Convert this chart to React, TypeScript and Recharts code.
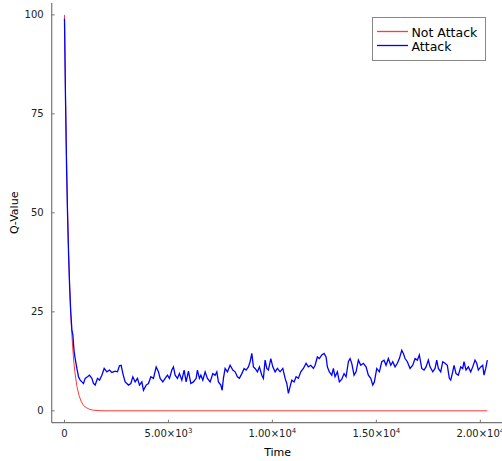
import React from "react";
import { LineChart, Line, XAxis, YAxis, Legend } from "recharts";

const seriesNames = ["Not Attack", "Attack"];

// Not Attack: smooth decay
const notAttackTime = [0, 50, 100, 150, 200, 250, 300, 350, 400, 450, 500, 600, 700, 800, 900, 1000, 1200, 1400, 1700, 2000, 20337];
const notAttackQ = [100, 79.2, 62.8, 49.8, 39.4, 31.3, 24.8, 19.6, 15.6, 12.3, 9.8, 6.1, 3.9, 2.4, 1.5, 0.96, 0.38, 0.15, 0.04, 0.01, 0];

// Attack: noisy trace
const attackTime = [
  0, 50, 100, 150, 200, 250, 300, 355, 404, 440, 466, 514, 560, 596, 640, 673, 755, 836, 913, 995,
  1106, 1202, 1317, 1394, 1476, 1587, 1683, 1798, 1909, 2038, 2163, 2279, 2438, 2548, 2644, 2726, 2808, 2918, 3077, 3192,
  3288, 3399, 3510, 3606, 3721, 3798, 3928, 4038, 4154, 4279, 4409, 4519, 4601, 4731, 4841, 4952, 5048, 5163, 5240, 5322,
  5433, 5529, 5644, 5755, 5851, 5962, 6077, 6202, 6332, 6394, 6490, 6560, 6654, 6764, 6875, 7005, 7135, 7245, 7327, 7404,
  7519, 7582, 7644, 7726, 7837, 7966, 8096, 8207, 8317, 8413, 8529, 8639, 8736, 8846, 8928, 9010, 9087, 9168, 9279, 9375,
  9490, 9567, 9649, 9731, 9808, 9923, 10019, 10130, 10240, 10370, 10500, 10611, 10692, 10769, 10851, 10933, 11043, 11139, 11250, 11365,
  11490, 11620, 11730, 11846, 11971, 12053, 12163, 12260, 12375, 12486, 12582, 12644, 12740, 12856, 12933, 13014, 13125, 13221, 13337, 13447,
  13543, 13654, 13736, 13817, 13928, 14024, 14135, 14250, 14375, 14505, 14615, 14731, 14827, 14904, 15019, 15144, 15260, 15370, 15466, 15577,
  15692, 15788, 15899, 16010, 16106, 16221, 16298, 16380, 16490, 16620, 16750, 16861, 16971, 17067, 17183, 17293, 17389, 17500, 17582, 17712,
  17822, 17904, 17981, 18096, 18192, 18303, 18413, 18510, 18577, 18673, 18736, 18832, 18942, 19058, 19154, 19216, 19313, 19423, 19538, 19635,
  19745, 19827, 19904, 20019, 20115, 20178, 20260, 20337,
];
const attackQ = [
  99, 78.5, 61.5, 49, 39, 31, 25, 20.5, 19.1, 16.5, 14.9, 13.2, 11.8, 10.7, 9.6, 8.6, 7.75, 7.3, 6.9, 8.2,
  8.6, 9.0, 8.2, 6.9, 6.5, 8.2, 7.75, 9.0, 10.7, 9.85, 10.3, 9.7, 10.0, 9.85, 11.4, 11.5, 9.4, 7.3, 6.5, 6.9,
  8.6, 7.3, 8.2, 6.5, 7.3, 5.2, 6.5, 6.9, 8.6, 8.2, 11.1, 9.85, 8.2, 7.3, 8.2, 9.0, 8.2, 10.3, 11.1, 9.0,
  8.2, 9.4, 7.75, 10.3, 7.3, 10.0, 6.9, 7.3, 8.2, 10.3, 8.2, 9.0, 7.75, 9.85, 8.2, 7.3, 9.4, 9.0, 9.85, 7.3,
  6.5, 5.2, 8.2, 10.7, 9.85, 11.5, 10.3, 9.85, 8.6, 8.2, 9.4, 10.7, 10.3, 11.1, 12.4, 14.5, 11.1, 10.7, 9.85, 11.1,
  9.0, 8.2, 12.8, 10.7, 10.3, 13.2, 11.1, 9.85, 10.7, 9.85, 10.7, 8.2, 6.9, 4.4, 6.1, 7.75, 7.3, 8.6, 8.2, 9.85,
  10.7, 12.0, 11.1, 11.5, 10.7, 11.5, 13.6, 13.2, 14.1, 14.5, 13.6, 11.1, 9.85, 9.0, 10.7, 8.6, 9.85, 7.3, 8.0, 9.4,
  8.6, 12.4, 13.2, 12.0, 9.0, 9.85, 12.8, 11.5, 12.0, 11.1, 9.0, 8.2, 6.5, 7.3, 10.7, 9.85, 12.4, 12.8, 11.5, 13.2,
  11.5, 12.4, 11.1, 12.0, 13.2, 15.3, 14.5, 13.2, 12.4, 10.7, 11.5, 13.2, 12.8, 14.1, 10.7, 10.3, 11.1, 12.8, 11.1, 9.85,
  10.7, 12.8, 10.7, 9.85, 12.4, 12.0, 11.5, 8.2, 7.75, 9.85, 11.5, 9.4, 9.0, 11.1, 10.7, 12.4, 10.3, 11.1, 9.85, 11.1,
  12.8, 12.0, 10.3, 11.1, 11.5, 9.0, 10.7, 12.8,
];

const xTicks = [0, 5000, 10000, 15000, 20000];
const yTicks = [0, 25, 50, 75, 100];

const notAttackData = notAttackTime.map((t, i) => ({ t, q: notAttackQ[i] }));
const attackData = attackTime.map((t, i) => ({ t, q: attackQ[i] }));

const FONT = "'DejaVu Sans', sans-serif";
const AXIS = "#777";
const TXT = "#222";

const sci = (v: number) => {
  if (v === 0) return { base: "0", exp: "" };
  const exp = Math.floor(Math.log10(v));
  return { base: `${(v / 10 ** exp).toFixed(2)}×10`, exp: String(exp) };
};

const XTick = ({ x, y, payload }: any) => {
  const { base, exp } = sci(payload.value);
  return (
    <g>
      <line x1={x} x2={x} y1={y} y2={y - 3} stroke={AXIS} />
      <text x={x} y={y + 14} textAnchor="middle" fontSize={10} fill={TXT} fontFamily={FONT}>
        {base}
        {exp && (
          <tspan dy={-4} fontSize={7}>
            {exp}
          </tspan>
        )}
      </text>
    </g>
  );
};

const YTick = ({ x, y, payload }: any) => (
  <g>
    <line x1={x} x2={x + 3} y1={y} y2={y} stroke={AXIS} />
    <text x={x - 8} y={y} dy="0.35em" textAnchor="end" fontSize={10} fill={TXT} fontFamily={FONT}>
      {payload.value}
    </text>
  </g>
);

const YLabel = (props: any) => {
  const vb = props.viewBox || {};
  const cx = 14;
  const cy = vb.height ? vb.y + vb.height / 2 : 213;
  return (
    <text x={cx} y={cy} dy="0.35em" transform={`rotate(-90 ${cx} ${cy})`} textAnchor="middle" fontSize={11} fill="#000" fontFamily={FONT}>
      Q-Value
    </text>
  );
};

const LegendBox = ({ payload }: any) => {
  const items = [...(payload || [])].sort(
    (a: any, b: any) => seriesNames.indexOf(a.value) - seriesNames.indexOf(b.value)
  );
  return (
    <svg width={114} height={44} style={{ display: "block" }}>
      <rect x={0.5} y={0.5} width={113} height={43} fill="#fff" stroke="#888" />
      {items.map((p: any, i: number) => (
        <g key={p.value}>
          <line x1={5} x2={36} y1={14.5 + i * 14} y2={14.5 + i * 14} stroke={p.color} strokeWidth={1.3} />
          <text x={39.5} y={19.5 + i * 14} fontSize={12.5} fill="#000" fontFamily={FONT}>
            {p.value}
          </text>
        </g>
      ))}
    </svg>
  );
};

export default function App() {
  return (
    <div style={{ position: "absolute", left: 0, top: 0, width: 502, height: 461, overflow: "hidden", background: "#fff" }}>
      <LineChart width={506} height={461} margin={{ top: 3, right: 2.5, bottom: 0, left: 0 }}>
        <XAxis
          dataKey="t"
          type="number"
          domain={[-615, 21115]}
          ticks={xTicks}
          interval={0}
          allowDataOverflow
          height={38.3}
          tickSize={0}
          tickMargin={0}
          tickLine={false}
          tick={<XTick />}
          axisLine={{ stroke: AXIS, strokeWidth: 1.2 }}
          label={{ value: "Time", position: "insideBottom", offset: 5, fontSize: 11, fill: "#000", fontFamily: FONT }}
        />
        <YAxis
          type="number"
          domain={[-3, 103]}
          ticks={yTicks}
          interval={0}
          allowDataOverflow
          width={51.7}
          tickSize={0}
          tickMargin={0}
          tickLine={false}
          tick={<YTick />}
          axisLine={{ stroke: AXIS, strokeWidth: 1.2 }}
          label={{ content: <YLabel /> }}
        />
        <Legend
          layout="vertical"
          align="center"
          verticalAlign="middle"
          wrapperStyle={{ top: 17, left: 372, width: 114, height: 44 }}
          content={<LegendBox />}
        />
        <Line
          data={notAttackData}
          dataKey="q"
          name={seriesNames[0]}
          stroke="#ff3a3a"
          strokeWidth={1}
          dot={false}
          isAnimationActive={false}
        />
        <Line
          data={attackData}
          dataKey="q"
          name={seriesNames[1]}
          stroke="#0000ff"
          strokeWidth={1.3}
          dot={false}
          isAnimationActive={false}
        />
      </LineChart>
    </div>
  );
}
